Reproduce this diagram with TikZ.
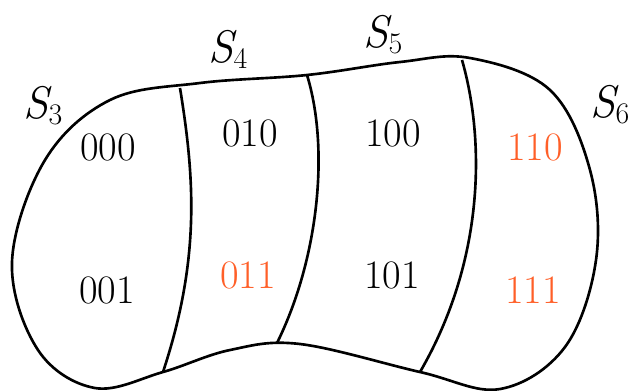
\documentclass[tikz,border=0pt]{standalone}
\usepackage{xcolor}
\definecolor{codeorange}{HTML}{FF5F28}
\usetikzlibrary{positioning}

\newcommand{\setlabel}[1]{{\itshape S}\raisebox{-3.7pt}{\fontsize{17}{17}\selectfont #1}}

\tikzset{
  code/.style={inner sep=0pt, font=\rmfamily\fontsize{23}{26}\selectfont},
  hot/.style={code, text=codeorange},
  setname/.style={inner sep=0pt, anchor=base, font=\rmfamily\fontsize{26}{30}\selectfont},
}

\begin{document}
\begin{tikzpicture}[x=0.02cm, y=-0.02cm, line width=1.5pt]
    \useasboundingbox (0,0) rectangle (634,390);

    % --- Outer region ---
    \draw plot[smooth cycle, tension=0.6] coordinates {
        (12,262) (45,160) (110,100) (200,83) (307,75) (400,62) (470,58)
        (550,90) (590,170) (596,260) (565,347) (500,389) (420,372)
        (300,344) (230,350) (163,372) (95,388) (38,350)};

    % --- Dividing curves ---
    \draw (180,88) .. controls (195,180) and (200,260) .. (163,372);
    \draw (307,75) .. controls (330,150) and (318,260) .. (277,343);
    \draw (462,60) .. controls (485,140) and (485,260) .. (420,372);

    % --- Set labels ---
    \node[setname] (s3) at (43,118) {\setlabel{3}};
    \node[setname] (s4) at (228,62) {\setlabel{4}};
    \node[setname] (s5) at (383,47) {\setlabel{5}};
    \node[setname] (s6) at (610,117) {\setlabel{6}};

    % --- Codes, top row ---
    \node[code] (c000) at (108,147) {000};
    \node[code] (c010) at (250,133) {010};
    \node[code] (c100) at (393,133) {100};
    \node[hot]  (c110) at (535,147) {110};

    % --- Codes, bottom row ---
    \node[code] (c001) at (107,290) {001};
    \node[hot]  (c011) at (248,275) {011};
    \node[code] (c101) at (392,275) {101};
    \node[hot]  (c111) at (533,290) {111};

\end{tikzpicture}
\end{document}
